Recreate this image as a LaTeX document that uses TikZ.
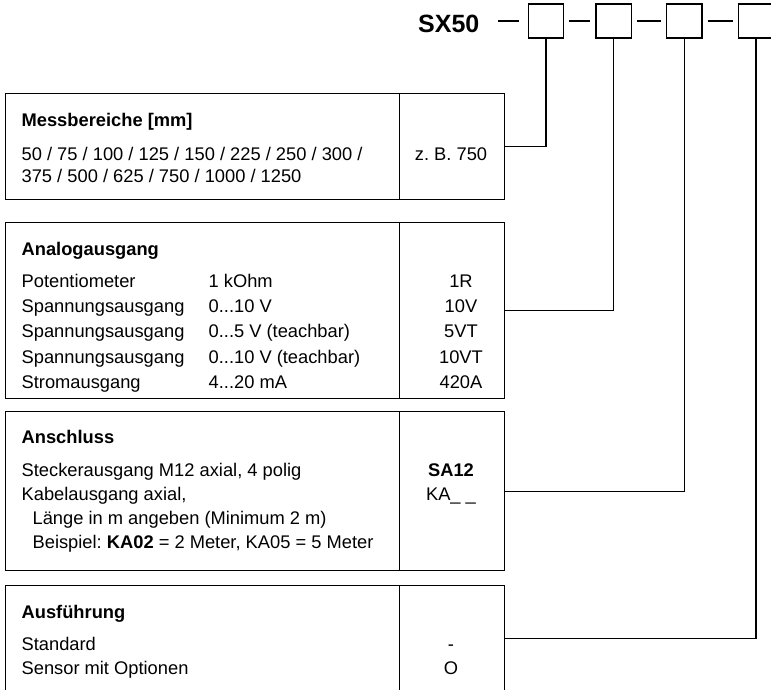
\documentclass[tikz,border=0pt]{standalone}
\usepackage{fontspec}
\setmainfont{Liberation Sans}
\usetikzlibrary{positioning}
\frenchspacing
\newcommand{\tripdot}{...}

\begin{document}
\begin{tikzpicture}[x=1pt, y=-1pt, line width=1.3pt,
  every node/.style={font=\fontsize{18.3}{22}\selectfont, inner sep=0pt},
  cell/.style={draw, anchor=north west, minimum height=#1},
  txt/.style={anchor=base west},
  head/.style={anchor=base west, font=\fontsize{18.3}{22}\selectfont\bfseries},
  code/.style={anchor=base},
  slot/.style={draw, minimum width=35.5pt, minimum height=34pt}]
\clip (0,0) rectangle (771,690);

% type key
\node[anchor=base east, font=\fontsize{25}{30}\selectfont\bfseries] (sx) at (480,32.3) {SX50};
\node[slot] (b1) at (546,21) {};
\node[slot] (b2) at (613.8,21) {};
\node[slot] (b3) at (684.3,21) {};
\node[slot] (b4) at (756,21) {};
\draw ([xshift=-9pt]b1.west) -- ++(-21pt,0);
\foreach \a/\b in {b1/b2, b2/b3, b3/b4}
  \draw ([xshift=5pt]\a.east) -- ([xshift=-5pt]\b.west);

% Messbereiche
\node[cell=106pt, minimum width=394pt] (t1l) at (5,93) {};
\node[cell=106pt, minimum width=105pt] (t1r) at (399,93) {};
\node[head] (t1h) at (21,127) {Messbereiche [mm]};
\node[txt] (t1a) at (21,160.7) {50 / 75 / 100 / 125 / 150 / 225 / 250 / 300 /};
\node[txt] (t1b) at (21,182.7) {375 / 500 / 625 / 750 / 1000 / 1250};
\node[code] (t1c) at (451,160.7) {z. B. 750};

% Analogausgang
\node[cell=176pt, minimum width=394pt] (t2l) at (5,222) {};
\node[cell=176pt, minimum width=105pt] (t2r) at (399,222) {};
\node[head] (t2h) at (21,255) {Analogausgang};
\foreach \y/\name/\val/\code in {287.3/Potentiometer/1 kOhm/1R,
    312.6/Spannungsausgang/0\tripdot10 V/10V,
    337.9/Spannungsausgang/0\tripdot5 V (teachbar)/5VT,
    363.2/Spannungsausgang/0\tripdot10 V (teachbar)/10VT,
    388.5/Stromausgang/4\tripdot20 mA/420A} {
  \node[txt] at (21,\y) {\name};
  \node[txt] at (208,\y) {\val};
  \node[code] at (461,\y) {\code};
}

% Anschluss
\node[cell=159pt, minimum width=394pt] (t3l) at (5,411) {};
\node[cell=159pt, minimum width=105pt] (t3r) at (399,411) {};
\node[head] (t3h) at (21,443) {Anschluss};
\node[txt] (t3a) at (21,476) {Steckerausgang M12 axial, 4 polig};
\node[txt] (t3b) at (21,500) {Kabelausgang axial,};
\node[txt] (t3c) at (32,524) {Länge in m angeben (Minimum 2 m)};
\node[txt] (t3d) at (32,548) {Beispiel: \textbf{KA02} = 2 Meter, KA05 = 5 Meter};
\node[code, font=\fontsize{18.3}{22}\selectfont\bfseries] (t3e) at (451,476) {SA12};
\node[code] (t3f) at (451,500) {KA\_ \_};

% Ausfuehrung
\node[cell=106pt, minimum width=394pt] (t4l) at (5,585) {};
\node[cell=106pt, minimum width=105pt] (t4r) at (399,585) {};
\node[head] (t4h) at (21,618) {Ausführung};
\node[txt] (t4a) at (21,650) {Standard};
\node[txt] (t4b) at (21,674) {Sensor mit Optionen};
\node[code] (t4c) at (451,650) {-};
\node[code] (t4d) at (451,674) {O};

% connectors
\draw (t1r.east) -| (b1.south);
\draw (t2r.east) -| (b2.south);
\draw (t3r.east) -| (b3.south);
\draw (t4r.east) -| (b4.south);
\end{tikzpicture}
\end{document}
